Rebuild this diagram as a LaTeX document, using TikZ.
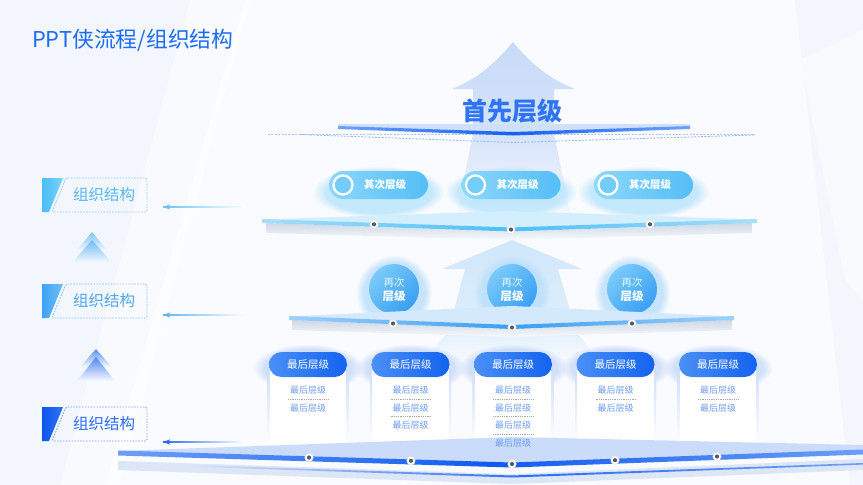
\documentclass[tikz,border=0pt]{standalone}
\usepackage{fontspec}
\setmainfont{Noto Sans CJK SC}
\usetikzlibrary{fadings}
\definecolor{bgc}{HTML}{F3F6FD}
\definecolor{bgl}{HTML}{F8FAFE}
\definecolor{titleblue}{HTML}{1B6CF2}
\definecolor{arrowA}{HTML}{C7DAF8}
\definecolor{arrowAb}{HTML}{D6E3FA}
\definecolor{arrowB}{HTML}{D0E6FA}
\definecolor{arrowBb}{HTML}{DDEEFC}
\definecolor{pillL}{HTML}{8CD8FB}
\definecolor{pillR}{HTML}{55BEF7}
\definecolor{ringfill}{HTML}{74CCF9}
\definecolor{circL}{HTML}{7ACBF9}
\definecolor{circD}{HTML}{3A9FF4}
\definecolor{deepL}{HTML}{4A90F6}
\definecolor{deepR}{HTML}{1462F0}
\definecolor{subtxt}{HTML}{6F9DF0}
\definecolor{dotc}{HTML}{555B66}
\definecolor{labA}{HTML}{55B9F2}
\definecolor{labB}{HTML}{4FA6EE}
\definecolor{labC}{HTML}{2A6DF0}
\definecolor{lvonec}{HTML}{2F74F3}
\definecolor{plAband}{HTML}{CFE0FB}
\definecolor{plAend}{HTML}{6FA3F7}
\definecolor{plAmid}{HTML}{1560F0}
\definecolor{dashA}{HTML}{A6C4F6}
\definecolor{dashB}{HTML}{8FB3F4}
\definecolor{glowB}{HTML}{BFE7FC}
\definecolor{plBband}{HTML}{D3EEFC}
\definecolor{plBend}{HTML}{A8DEFA}
\definecolor{plBmid}{HTML}{4CBEF6}
\definecolor{shadowc}{HTML}{CFD8E4}
\definecolor{glowC}{HTML}{BADFFB}
\definecolor{plCband}{HTML}{D4E9FB}
\definecolor{plCend}{HTML}{9FD2F9}
\definecolor{plCmid}{HTML}{3A9CF3}
\definecolor{glowD}{HTML}{C2D6FA}
\definecolor{cardside}{HTML}{CFDEF9}
\definecolor{plDfill}{HTML}{CADCFA}
\definecolor{plDend}{HTML}{6E9FF7}
\definecolor{plDmid}{HTML}{0F5BEF}
\definecolor{plDband}{HTML}{DCE6F7}
\definecolor{plDthin}{HTML}{2A6EF2}
\definecolor{tabAl}{HTML}{49BDF6}
\definecolor{tabAr}{HTML}{7AD3FA}
\definecolor{tabBl}{HTML}{3FA2F4}
\definecolor{tabBr}{HTML}{6EC0F7}
\definecolor{tabCl}{HTML}{0F55EE}
\definecolor{tabCr}{HTML}{2F75F3}
\definecolor{dashLA}{HTML}{8FD0F7}
\definecolor{dashLB}{HTML}{87C4F5}
\definecolor{dashLC}{HTML}{7FA5F2}
\definecolor{arrLA}{HTML}{6DC3F6}
\definecolor{arrLB}{HTML}{62B4F5}
\definecolor{arrLC}{HTML}{2A6DF0}
\definecolor{chevA}{HTML}{7CC6F7}
\definecolor{chevB}{HTML}{6DBBF6}
\definecolor{chevC}{HTML}{5B93F3}
\definecolor{chevD}{HTML}{4F87F2}
\tikzset{
  softglow/.style={path fading=circle with fuzzy edge 20 percent, fit fading=true},
  pilltwo/.style={rectangle, rounded corners=14pt, minimum width=99pt, minimum height=28pt, inner sep=0pt, left color=pillL, right color=pillR},
  pillfour/.style={rectangle, rounded corners=12.5pt, minimum width=78pt, minimum height=25pt, inner sep=0pt, left color=deepL, right color=deepR, text=white, font=\fontsize{10.5}{11}\selectfont},
  ballthree/.style={circle, minimum size=50pt, inner sep=0pt, top color=circL, bottom color=circD, shading angle=45},
  ringnode/.style={circle, draw=white, line width=2.2pt, fill=ringfill, minimum size=19pt, inner sep=0pt},
  dotO/.style={circle, fill=white, draw=black!12, line width=.4pt, minimum size=8.5pt, inner sep=0pt},
  subitem/.style={text=subtxt, font=\fontsize{9}{9}\selectfont, inner sep=1pt},
  sepline/.style={draw=black!35, line width=.6pt, dash pattern=on .9pt off .9pt},
  labtext/.style={font=\fontsize{15.5}{16}\selectfont, inner sep=0pt},
}
\begin{document}
\begin{tikzpicture}[x=1pt,y=-1pt]
\useasboundingbox (0,0) rectangle (863,485);
% background
\fill[bgc] (0,0) rectangle (863,485);
\fill[white, opacity=.6] (245,0) -- (795,0) -- (850,485) -- (105,485) -- cycle;
\fill[white, opacity=.5] (190,0) -- (250,0) -- (120,485) -- (60,485) -- cycle;
\fill[white, opacity=.45] (800,60) -- (863,30) -- (863,300) -- (845,280) -- cycle;

% ---------- level-1 big arrow ----------
\shade[top color=arrowA, bottom color=arrowAb]
  (513,42) .. controls (500,58) and (480,78) .. (452,89) -- (473,89) -- (473,128)
  -- (554,128) -- (554,89) -- (575,89) .. controls (546,78) and (526,58) .. (513,42) -- cycle;
\shade[top color=arrowAb, bottom color=bgl] (473,134) -- (554,134) -- (572,222) -- (455,222) -- cycle;

% ---------- level-3 arrow ----------
\shade[top color=arrowB, bottom color=arrowBb]
  (512,240) -- (582,269) -- (558,269) -- (572,318) -- (452,318) -- (465,269) -- (442,269) -- cycle;
\shade[top color=arrowBb, bottom color=bgl] (452,326) -- (572,326) -- (598,360) -- (426,360) -- cycle;

% ---------- platform 1 ----------
\draw[dashA, line width=.7pt, dash pattern=on 2pt off 1.4pt] (268,134) -- (755,134);
\draw[dashB, line width=.8pt, dash pattern=on 2pt off 1.4pt] (300,134.5) -- (513,142.5) -- (754,135);
\fill[plAband] (338,124) -- (690,124) -- (690,127) -- (513,132.5) -- (338,127) -- cycle;
\shade[left color=plAend, right color=plAend, middle color=plAmid]
  (338,126) -- (513,132) -- (690,126) -- (690,129) -- (513,135.5) -- (338,129) -- cycle;
\node[font=\bfseries\fontsize{25}{25}\selectfont, text=lvonec, inner sep=0pt] (lvone) at (512,111) {首先层级};

% ---------- level 2 pills ----------
\foreach \cx in {378.5,511,643.5}{
  \fill[glowB, softglow, opacity=.9] (\cx,192) ellipse (66pt and 26pt);
}
\node[pilltwo] (ptA) at (378.5,185) {};
\node[pilltwo] (ptB) at (511,185) {};
\node[pilltwo] (ptC) at (643.5,185) {};
\foreach \n in {A,B,C}{
  \node[ringnode] (ring\n) at ([xshift=-35.5pt]pt\n.center) {};
  \node[text=white, font=\bfseries\fontsize{10.5}{11}\selectfont, inner sep=0pt] (tt\n) at ([xshift=6.5pt]pt\n.center) {其次层级};
}

% ---------- platform 2 ----------
\shade[top color=shadowc, bottom color=bgl] (266,223) -- (511,232) -- (752,223) -- (752,233) -- (511,240) -- (266,233) -- cycle;
\fill[plBband] (262,219.5) -- (511,211) -- (757,219.5) -- (511,228) -- cycle;
\shade[left color=plBend, right color=plBend, middle color=plBmid]
  (262,219) -- (511,227.5) -- (757,219) -- (757,223) -- (511,231.5) -- (262,223) -- cycle;
\node[dotO] (dtA) at (374,224.3) {};
\node[dotO] (dtB) at (511,229.5) {};
\node[dotO] (dtC) at (650,224.3) {};
\foreach \n in {A,B,C}{\fill[dotc] (dt\n) circle (2.1pt);}

% ---------- level 3 balls ----------
\foreach \cx in {394,512,632}{
  \fill[glowC, softglow, opacity=.8] (\cx,293) circle (38pt);
}
\node[ballthree] (bA) at (394,289) {};
\node[ballthree] (bB) at (512,289) {};
\node[ballthree] (bC) at (632,289) {};
\foreach \n in {A,B,C}{
  \node[text=white!80!circL, font=\fontsize{10.5}{11}\selectfont, inner sep=0pt] (ba\n) at ([yshift=6pt]b\n.center) {再次};
  \node[text=white, font=\bfseries\fontsize{11.5}{12}\selectfont, inner sep=0pt] (bb\n) at ([yshift=-7.5pt]b\n.center) {层级};
}

% ---------- platform 3 ----------
\shade[top color=shadowc, bottom color=bgl] (292,320) -- (512,329) -- (732,320) -- (732,330) -- (512,337) -- (292,330) -- cycle;
\fill[plCband] (289,316.5) -- (512,306) -- (734,316.5) -- (512,326) -- cycle;
\shade[left color=plCend, right color=plCend, middle color=plCmid]
  (289,316) -- (512,325) -- (734,316) -- (734,320) -- (512,329) -- (289,320) -- cycle;
\node[dotO] (dsA) at (393,323.5) {};
\node[dotO] (dsB) at (512,327.5) {};
\node[dotO] (dsC) at (632,323.5) {};
\foreach \n in {A,B,C}{\fill[dotc] (ds\n) circle (2.1pt);}

% ---------- level 4 cards & pills ----------
\foreach \cx in {308,410.5,513,615.5,718}{
  \fill[glowD, softglow, opacity=.7] (\cx,368) ellipse (55pt and 24pt);
  \fill[white] (\cx-39,366) rectangle (\cx+39,452);
  \shade[top color=cardside, bottom color=white] (\cx-40.5,368) rectangle (\cx-38.5,448);
  \shade[top color=cardside, bottom color=white] (\cx+38.5,368) rectangle (\cx+40.5,448);
}
\node[pillfour] (pfA) at (308,364.5) {最后层级};
\node[pillfour] (pfB) at (410.5,364.5) {最后层级};
\node[pillfour] (pfC) at (513,364.5) {最后层级};
\node[pillfour] (pfD) at (615.5,364.5) {最后层级};
\node[pillfour] (pfE) at (718,364.5) {最后层级};

% ---------- bottom platform ----------
\fill[plDband] (118,461) -- (512,474) -- (863,459) -- (863,470) -- (512,484) -- (118,470) -- cycle;
\fill[plDfill] (118,451) -- (512,437) -- (863,445) -- (863,452) -- (512,464) -- (118,454) -- cycle;
\shade[left color=plDband, right color=plDend, middle color=plDthin]
  (190,465) -- (512,475.5) -- (863,463) -- (863,464.6) -- (512,477.5) -- (190,466.6) -- cycle;
\shade[left color=plDend, right color=plDend, middle color=plDmid]
  (118,450.5) -- (512,462.5) -- (863,449.5) -- (863,454.5) -- (512,467.5) -- (118,455.5) -- cycle;
\node[dotO] (dbA) at (309,457.5) {};
\node[dotO] (dbB) at (411,460.8) {};
\node[dotO] (dbC) at (512,464) {};
\node[dotO] (dbD) at (615,460.2) {};
\node[dotO] (dbE) at (717,456.5) {};
\foreach \n in {A,B,C,D,E}{\fill[dotc] (db\n) circle (2.1pt);}

% ---------- sub items ----------
\foreach \n/\cx/\k in {A/308/2,B/410.5/3,C/513/4,D/615.5/2,E/718/2}{
  \foreach \i in {1,...,\k}{
    \node[subitem] (s\n\i) at (\cx,372.5+17.6*\i) {最后层级};
  }
  \pgfmathtruncatemacro{\km}{\k-1}
  \foreach \i in {1,...,\km}{
    \draw[sepline] (\cx-20,381.3+17.6*\i) -- (\cx+20,381.3+17.6*\i);
  }
}

% ---------- left labels ----------
\foreach \t/\n/\ca/\cb/\dc/\tc in {178/A/tabAl/tabAr/dashLA/labA,
                                  284/B/tabBl/tabBr/dashLB/labB,
                                  407/C/tabCl/tabCr/dashLC/labC}{
  \shade[left color=\ca, right color=\cb] (42,\t) -- (63,\t) -- (49,\t+34) -- (42,\t+34) -- cycle;
  \draw[color=\dc, line width=.9pt, dash pattern=on 1.6pt off 1.3pt, rounded corners=1.5pt]
    (66,\t) -- (147,\t) -- (147,\t+34) -- (52,\t+34) -- cycle;
  \node[labtext, text=\tc] (lab\n) at (104,\t+17) {组织结构};
}
% arrows toward labels
\foreach \y/\n/\c in {207/A/arrLA, 315/B/arrLB, 442/C/arrLC}{
  \coordinate (as\n) at (242,\y);
  \coordinate (ae\n) at (163,\y);
  \shade[left color=\c, right color=bgl] ([yshift=-.7pt]ae\n) rectangle ([yshift=.7pt]as\n);
  \fill[\c] (ae\n) -- ++(7,-2.6) -- ++(-1.4,2.6) -- ++(1.4,2.6) -- cycle;
}
% chevrons
\shade[top color=chevA, bottom color=bgl] (92,232) -- (108,251) -- (76,251) -- cycle;
\shade[top color=chevB, bottom color=bgl] (92,240) -- (112,263) -- (72,263) -- cycle;
\shade[top color=chevC, bottom color=bgl] (96,349) -- (112,367) -- (80,367) -- cycle;
\shade[top color=chevD, bottom color=bgl] (96,357) -- (115,381) -- (77,381) -- cycle;

% ---------- title ----------
\shade[top color=bgc, middle color=titleblue, bottom color=bgc] (10.6,24) rectangle (11.8,44);
\shade[top color=bgc, middle color=titleblue, bottom color=bgc] (19.4,16) rectangle (20.6,40);
\shade[top color=bgc, middle color=titleblue, bottom color=bgc] (26.4,29) rectangle (27.6,54);
\node[anchor=west, text=titleblue, font=\fontsize{21.8}{22}\selectfont, inner sep=0pt] (title) at (32,40) {PPT侠流程/组织结构};
\end{tikzpicture}
\end{document}
